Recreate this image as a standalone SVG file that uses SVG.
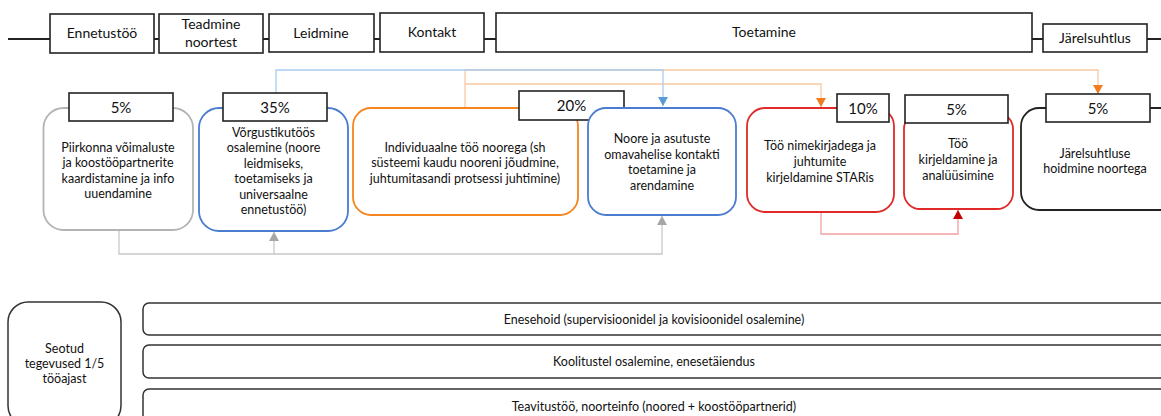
<svg xmlns="http://www.w3.org/2000/svg" width="1161" height="416" viewBox="0 0 1161 416">
<style>
text{font-family:Lato,"Liberation Sans",sans-serif;fill:#111;text-anchor:middle}
.t{font-size:12.5px}
.h{font-size:14px}
.p{font-size:15px}
.top{fill:#fff;stroke:#222;stroke-width:1.6}
.lab{fill:#fff;stroke:#222;stroke-width:1.6}
.card{fill:#fff;stroke-width:1.8}
.bar{fill:#fff;stroke:#333;stroke-width:1.5}
.c{fill:none;stroke-width:1.3}
</style>
<defs>
<marker id="aB" markerUnits="userSpaceOnUse" markerWidth="10" markerHeight="10" refX="5" refY="9" viewBox="0 0 10 10"><path d="M0,0 L10,0 L5,9 z" fill="#5b9bd5"/></marker>
<marker id="aO" markerUnits="userSpaceOnUse" markerWidth="10" markerHeight="10" refX="5" refY="9" viewBox="0 0 10 10"><path d="M0,0 L10,0 L5,9 z" fill="#f07c1e"/></marker>
<marker id="aG" markerUnits="userSpaceOnUse" markerWidth="10" markerHeight="10" refX="5" refY="1" viewBox="0 0 10 10"><path d="M0,10 L10,10 L5,1 z" fill="#a6a6a6"/></marker>
<marker id="aR" markerUnits="userSpaceOnUse" markerWidth="10" markerHeight="10" refX="5" refY="1" viewBox="0 0 10 10"><path d="M0,10 L10,10 L5,1 z" fill="#c00000"/></marker>
</defs>

<g id="timeline">
<line x1="8" y1="39" x2="1161" y2="39" stroke="#222" stroke-width="2"/>
</g>
<g id="phase-ennetustoo"><rect class="top" x="50" y="14" width="104" height="39"/><text class="h" x="102" y="38">Ennetustöö</text></g>
<g id="phase-teadmine"><rect class="top" x="159" y="14" width="104" height="39"/><text class="h" x="211" y="29">Teadmine</text><text class="h" x="211" y="47">noortest</text></g>
<g id="phase-leidmine"><rect class="top" x="269" y="14" width="105" height="38"/><text class="h" x="321" y="38">Leidmine</text></g>
<g id="phase-kontakt"><rect class="top" x="380" y="13" width="104" height="39"/><text class="h" x="432" y="37">Kontakt</text></g>
<g id="phase-toetamine"><rect class="top" x="496" y="13" width="536" height="39"/><text class="h" x="764" y="37">Toetamine</text></g>
<g id="phase-jarelsuhtlus"><rect class="top" x="1043" y="24" width="104" height="28"/><text class="h" x="1095" y="43">Järelsuhtlus</text></g>

<g id="connectors">
<path class="c" d="M465 108 V70 H1098 V94" stroke="#f9c9a3" marker-end="url(#aO)"/>
<path class="c" d="M465 84 H821 V107" stroke="#f9c9a3" marker-end="url(#aO)"/>
<path class="c" d="M276 93 V70 H663 V106" stroke="#a9cdee" marker-end="url(#aB)"/>
<path class="c" d="M119 230 V254 H274 V232" stroke="#c8c8c8" marker-end="url(#aG)"/>
<path class="c" d="M274 254 H662 V216" stroke="#c8c8c8" marker-end="url(#aG)"/>
<path class="c" d="M821 212 V234 H958 V210" stroke="#f2a0a0" marker-end="url(#aR)"/>
</g>

<g id="n1">
<rect class="card" x="43.5" y="108" width="149.5" height="122" rx="20" stroke="#b4b4b4"/>
<rect class="lab" x="69" y="93" width="104" height="28"/><text class="p" x="121" y="112.5">5%</text>
<text class="t" x="118" y="151.5">Piirkonna võimaluste</text>
<text class="t" x="118" y="167">ja koostööpartnerite</text>
<text class="t" x="118" y="182.5">kaardistamine ja info</text>
<text class="t" x="118" y="198">uuendamine</text>
</g>
<g id="n2">
<rect class="card" x="199" y="108" width="149" height="123" rx="20" stroke="#4a7cd0"/>
<rect class="lab" x="223" y="93" width="104" height="28"/><text class="p" x="275" y="112.5">35%</text>
<text class="t" x="273.5" y="136.5">Võrgustikutöös</text>
<text class="t" x="273.5" y="152">osalemine (noore</text>
<text class="t" x="273.5" y="167.5">leidmiseks,</text>
<text class="t" x="273.5" y="183">toetamiseks ja</text>
<text class="t" x="273.5" y="198.5">universaalne</text>
<text class="t" x="273.5" y="214">ennetustöö)</text>
</g>
<g id="n3">
<rect class="card" x="353" y="108" width="225" height="107" rx="18" stroke="#f5851f"/>
<rect class="lab" x="519" y="91" width="105" height="29"/><text class="p" x="571.5" y="111">20%</text>
<text class="t" x="465" y="151.5">Individuaalne töö noorega (sh</text>
<text class="t" x="465" y="167">süsteemi kaudu nooreni jõudmine,</text>
<text class="t" x="465" y="182.5">juhtumitasandi protsessi juhtimine)</text>
</g>
<g id="n4">
<rect class="card" x="588" y="108" width="148" height="107" rx="18" stroke="#4a7cd0"/>
<text class="t" x="662" y="142.5">Noore ja asutuste</text>
<text class="t" x="662" y="158.5">omavahelise kontakti</text>
<text class="t" x="662" y="174">toetamine ja</text>
<text class="t" x="662" y="190">arendamine</text>
</g>
<g id="n5">
<rect class="card" x="747" y="108" width="147" height="104" rx="18" stroke="#e02a2a"/>
<rect class="lab" x="837" y="94" width="52" height="28"/><text class="p" x="863" y="113.5">10%</text>
<text class="t" x="820" y="149.5">Töö nimekirjadega ja</text>
<text class="t" x="820" y="165.5">juhtumite</text>
<text class="t" x="820" y="181.5">kirjeldamine STARis</text>
</g>
<g id="n6">
<rect class="card" x="904" y="113" width="109" height="96" rx="16" stroke="#e02a2a"/>
<rect class="lab" x="905" y="95" width="103" height="28"/><text class="p" x="956.5" y="114.5">5%</text>
<text class="t" x="958" y="147.5">Töö</text>
<text class="t" x="958" y="163.5">kirjeldamine ja</text>
<text class="t" x="958" y="179.5">analüüsimine</text>
</g>
<g id="n7">
<rect class="card" x="1021" y="108" width="162" height="102" rx="18" stroke="#222"/>
<rect class="lab" x="1046" y="94" width="104" height="28"/><text class="p" x="1098" y="113.5">5%</text>
<text class="t" x="1095" y="157.5">Järelsuhtluse</text>
<text class="t" x="1095" y="172.5">hoidmine noortega</text>
</g>

<g id="related">
<rect class="bar" x="8" y="302" width="113" height="124" rx="20" stroke="#222"/>
<text class="t" x="64.5" y="352.5">Seotud</text>
<text class="t" x="64.5" y="367.5">tegevused 1/5</text>
<text class="t" x="64.5" y="382.5">tööajast</text>
</g>
<g id="bar-enesehoid"><rect class="bar" x="143" y="303" width="1030" height="32" rx="6"/><text class="t" x="654" y="323.5">Enesehoid (supervisioonidel ja kovisioonidel osalemine)</text></g>
<g id="bar-koolitus"><rect class="bar" x="143" y="345" width="1030" height="33" rx="6"/><text class="t" x="654" y="366">Koolitustel osalemine, enesetäiendus</text></g>
<g id="bar-teavitus"><rect class="bar" x="143" y="389" width="1030" height="34" rx="6"/><text class="t" x="654" y="411">Teavitustöö, noorteinfo (noored + koostööpartnerid)</text></g>
</svg>
